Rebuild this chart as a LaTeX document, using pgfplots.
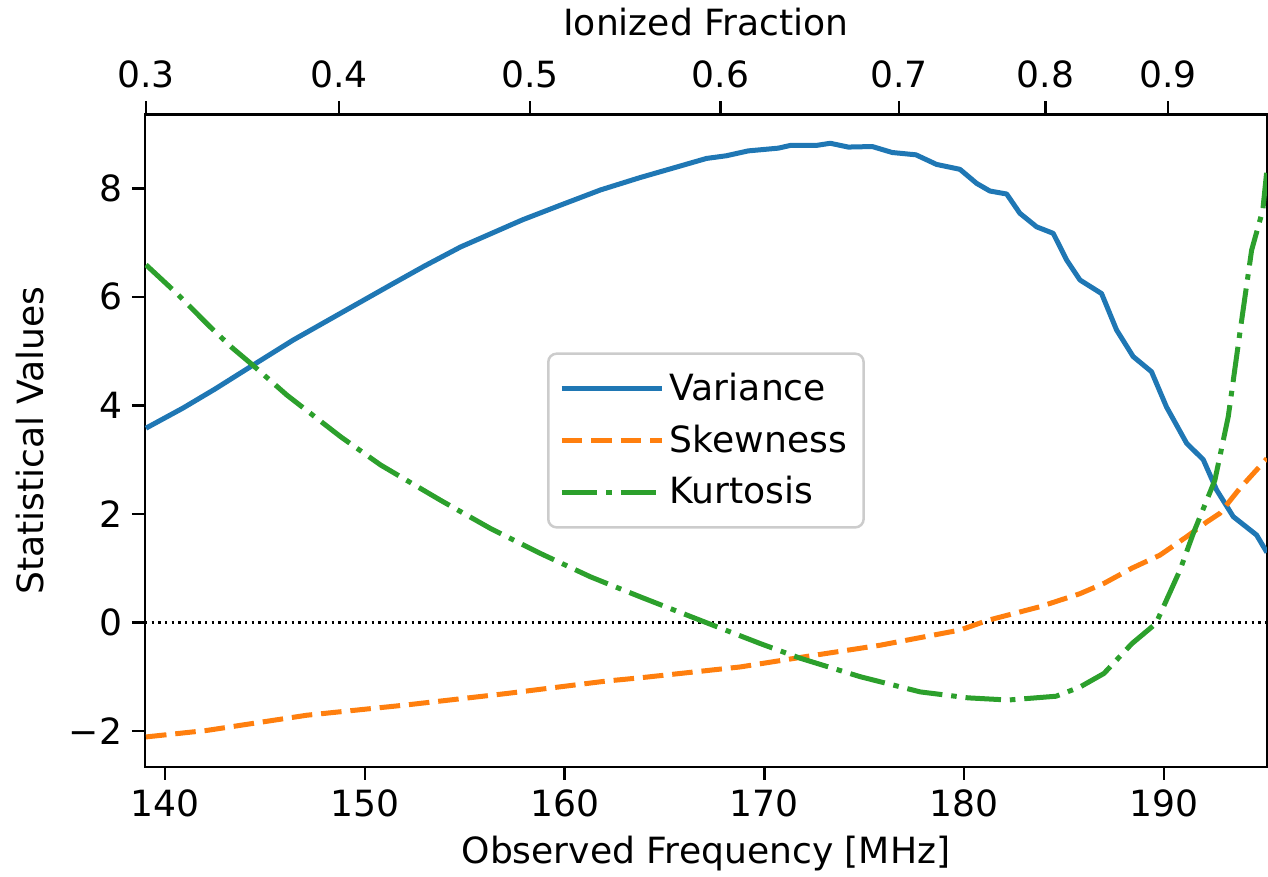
\documentclass[border=0pt]{standalone}
\usepackage{pgfplots}
\pgfplotsset{compat=1.18}
\usepackage{fontspec}
\setmainfont{DejaVu Sans}
\definecolor{cblue}{HTML}{1F77B4}
\definecolor{corange}{HTML}{FF7F0E}
\definecolor{cgreen}{HTML}{2CA02C}
\definecolor{lgray}{HTML}{CCCCCC}
\newcommand{\fs}{\fontsize{13pt}{15pt}\selectfont}
\begin{document}
\begin{tikzpicture}
\useasboundingbox (-52.2pt,-39.35pt) rectangle (404.3pt,276.05pt);
\begin{axis}[
  at={(0pt,0pt)}, anchor=south west,
  scale only axis, width=403.9pt, height=234.9pt,
  xmin=139.0, xmax=195.155, ymin=-2.66, ymax=9.364,
  xtick={140,150,160,170,180,190},
  ytick={-2,0,2,4,6,8},
  yticklabels={−2,0,2,4,6,8},
  xtick pos=lower, ytick pos=left,
  tick align=outside,
  major tick length=4.7pt,
  every tick/.style={black, line width=0.9pt},
  axis line style={line width=0.9pt},
  /pgf/number format/assume math mode=true,
  tick label style={font=\fs},
  label style={font=\fs},
  xlabel={Observed Frequency [MHz]},
  ylabel={Statistical Values},
  ylabel style={yshift=2pt},
  legend cell align=left,
  legend style={at={(0.5,0.5)}, anchor=center, draw=lgray, line width=0.9pt,
    rounded corners=3pt, font=\fs, row sep=3.2pt, inner xsep=4pt, inner ysep=5pt,
    fill=white, fill opacity=0.8, text opacity=1},
  legend image code/.code={\draw[#1] (0pt,0pt) -- (29pt,0pt); \path (0pt,0pt) -- (36pt,0pt);},
]
\addplot[black, line width=0.9pt, dash pattern=on 0.9pt off 1.5pt, forget plot] coordinates {(139,0) (195.155,0)};
\addplot[cblue, line width=1.8pt, line join=round] coordinates {
(139.05,3.58) (140.9,3.95) (142.5,4.30) (144.4,4.74) (146.4,5.20) (148.8,5.70)
(151.3,6.22) (153.0,6.57) (154.8,6.92) (157.9,7.42) (159.8,7.69) (161.8,7.97)
(163.8,8.20) (165.5,8.38) (167.1,8.55) (168.1,8.60) (169.2,8.69) (170.7,8.74)
(171.3,8.79) (172.6,8.79) (173.3,8.83) (174.2,8.76) (175.4,8.77) (176.4,8.66)
(177.59,8.617) (178.62,8.44) (179.79,8.35) (180.63,8.09) (181.29,7.95) (182.13,7.895)
(182.79,7.54) (183.63,7.29) (184.46,7.17) (185.13,6.68) (185.80,6.31) (186.88,6.06)
(187.63,5.39) (188.46,4.90) (189.38,4.62) (190.13,3.97) (191.14,3.30) (191.97,3.00)
(192.64,2.44) (193.47,1.95) (194.64,1.61) (195.155,1.29)};
\addlegendentry{Variance}
\addplot[corange, line width=1.8pt, dash pattern=on 7.4pt off 3.2pt] coordinates {
(139.05,-2.11) (142.1,-1.99) (144.6,-1.85) (147.1,-1.71) (152.1,-1.52) (157.1,-1.31)
(162.1,-1.08) (163.8,-1.02) (168.8,-0.82) (171.8,-0.645) (175.8,-0.42) (179.8,-0.14)
(181.2,0.04) (183.8,0.29) (185.8,0.53) (187.0,0.72) (188.4,1.00) (189.8,1.24)
(191.14,1.58) (192.14,1.85) (192.8,2.01) (193.8,2.47) (195.155,3.02)};
\addlegendentry{Skewness}
\addplot[cgreen, line width=1.8pt, dash pattern=on 12.8pt off 3.2pt on 2pt off 3.2pt] coordinates {
(139.05,6.59) (140.6,6.06) (142.25,5.45) (143.4,5.05) (144.4,4.74) (146.1,4.19)
(148.8,3.42) (150.8,2.90) (153.8,2.25) (156.3,1.73) (158.8,1.27) (161.3,0.84)
(163.8,0.47) (167.0,0.01) (169.8,-0.39) (171.8,-0.66) (174.8,-1.00) (177.8,-1.28)
(180.2,-1.39) (182.2,-1.43) (184.6,-1.36) (185.8,-1.19) (187.0,-0.94) (188.4,-0.39)
(189.6,-0.02) (190.8,0.96) (191.47,1.64) (192.55,2.62) (193.22,3.79) (193.8,5.33)
(194.39,6.86) (194.95,7.6) (195.155,8.34)};
\addlegendentry{Kurtosis}
\end{axis}
\begin{axis}[
  at={(0pt,0pt)}, anchor=south west,
  scale only axis, width=403.9pt, height=234.9pt,
  xmin=139.0, xmax=195.155, ymin=0, ymax=1,
  axis x line*=top, axis y line=none,
  xtick={139.05,148.7,158.27,167.8,176.75,184.07,190.2},
  xticklabels={0.3,0.4,0.5,0.6,0.7,0.8,0.9},
  tick align=outside,
  major tick length=4.7pt,
  every tick/.style={black, line width=0.9pt},
  axis line style={line width=0.9pt},
  tick label style={font=\fs},
  xticklabel style={yshift=1.2pt},
  label style={font=\fs},
  xlabel style={yshift=2pt},
  xlabel={Ionized Fraction},
]
\end{axis}
\end{tikzpicture}
\end{document}
